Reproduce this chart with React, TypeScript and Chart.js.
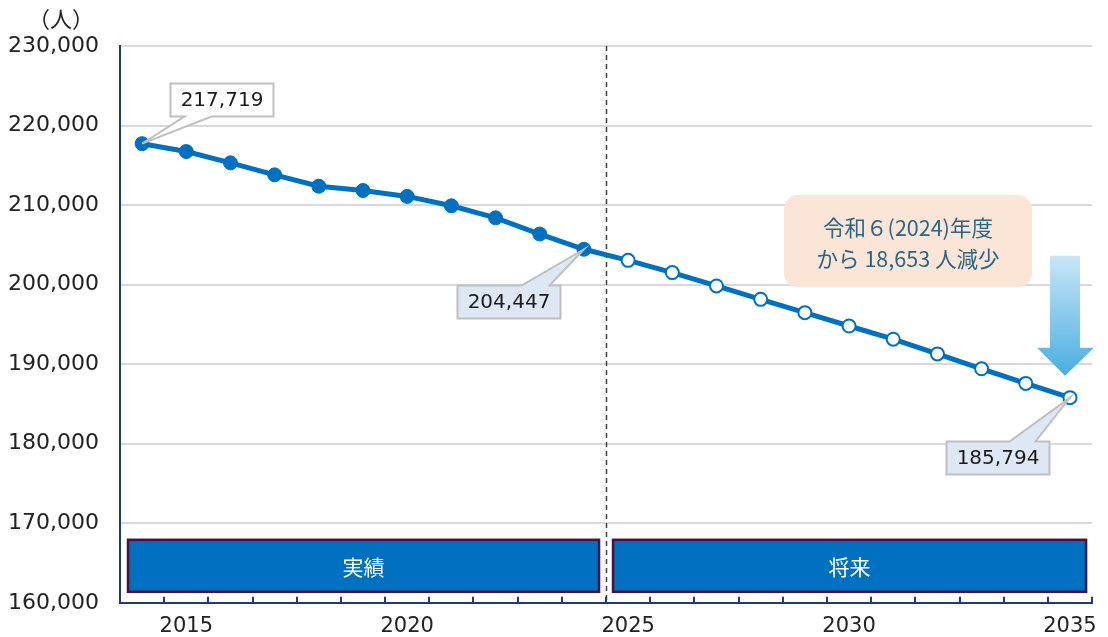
import React, { useEffect, useRef } from "react";
import { Chart, registerables } from "chart.js";

Chart.register(...registerables);

// ---- data ----
const years = [
  "2014", "2015", "2016", "2017", "2018", "2019", "2020", "2021", "2022", "2023", "2024",
  "2025", "2026", "2027", "2028", "2029", "2030", "2031", "2032", "2033", "2034", "2035",
];
const actualValues = [217719, 216730, 215310, 213800, 212370, 211830, 211090, 209910, 208400, 206360, 204447];
const projectedValues = [203050, 201510, 199830, 198150, 196480, 194800, 193140, 191290, 189420, 187580, 185794];
const yMin = 160000;
const yMax = 230000;
const yStep = 10000;
const calloutIndices = [0, 10, 21];
const periodLabels = ["実績", "将来"];
const noteLines = ["令和６(2024)年度", "から 18,653 人減少"];
const unitLabel = "（人）";

const allValues = [...actualValues, ...projectedValues];

// ---- styles / layout ----
const BLUE = "#0070c0";
const NAVY = "#1f3a78";
const GRID = "#d9d9d9";
const NUM_FONT = "DejaVu Sans";
const JP_FONT = "'Noto Sans CJK JP'";

const calloutStyle = [
  { dx: 79, dy: -44, fill: "#ffffff", edge: "bottom", b1: 14, b2: 41 },
  { dx: -75, dy: 52, fill: "#dde8f4", edge: "top", b1: 64, b2: 92 },
  { dx: -72, dy: 60, fill: "#dde8f4", edge: "top", b1: 63, b2: 89 },
];

const fmt = (v: number) => v.toLocaleString("en-US");

const decorPlugin = {
  id: "decor",
  beforeDatasetsDraw(chart: any) {
    const { ctx, chartArea, scales } = chart;
    const x = scales.x;
    const bx = (x.getPixelForValue(actualValues.length - 1) + x.getPixelForValue(actualValues.length)) / 2;
    ctx.save();
    ctx.strokeStyle = "#404040";
    ctx.lineWidth = 1.5;
    ctx.setLineDash([5, 4]);
    ctx.beginPath();
    ctx.moveTo(Math.round(bx) + 0.5, chartArea.top);
    ctx.lineTo(Math.round(bx) + 0.5, chartArea.bottom);
    ctx.stroke();
    ctx.restore();
  },
  afterDatasetsDraw(chart: any) {
    const { ctx, chartArea, scales } = chart;
    const x = scales.x;
    const y = scales.y;
    const step = x.getPixelForValue(1) - x.getPixelForValue(0);
    const x0 = x.getPixelForValue(0) - step / 2;

    // inward ticks
    ctx.save();
    ctx.strokeStyle = NAVY;
    ctx.lineWidth = 2;
    for (let i = 1; i <= years.length; i++) {
      const tx = Math.round(x0 + i * step);
      ctx.beginPath();
      ctx.moveTo(tx, chartArea.bottom - 6);
      ctx.lineTo(tx, chartArea.bottom);
      ctx.stroke();
    }
    ctx.restore();

    // unit label
    ctx.save();
    ctx.fillStyle = "#222";
    ctx.font = `22px ${JP_FONT}`;
    ctx.textBaseline = "middle";
    ctx.textAlign = "left";
    ctx.fillText(unitLabel, 28, 19);
    ctx.restore();

    // period bars
    const bx = (x.getPixelForValue(actualValues.length - 1) + x.getPixelForValue(actualValues.length)) / 2;
    const bars = [
      [chartArea.left + 8, bx - 7],
      [bx + 7, chartArea.right - 6],
    ];
    ctx.save();
    bars.forEach(([l, r], i) => {
      const top = chartArea.bottom - 63;
      const h = 52;
      ctx.fillStyle = BLUE;
      ctx.fillRect(l, top, r - l, h);
      ctx.strokeStyle = "#4a1040";
      ctx.lineWidth = 2.5;
      ctx.strokeRect(l, top, r - l, h);
      ctx.fillStyle = "#ffffff";
      ctx.font = `21px ${JP_FONT}`;
      ctx.textAlign = "center";
      ctx.textBaseline = "middle";
      ctx.fillText(periodLabels[i], (l + r) / 2, top + h / 2 + 1);
    });
    ctx.restore();

    // callouts
    calloutIndices.forEach((idx, k) => {
      const st = calloutStyle[k];
      const px = x.getPixelForValue(idx);
      const py = y.getPixelForValue(allValues[idx]);
      const text = fmt(allValues[idx]);
      ctx.save();
      ctx.font = `20px ${NUM_FONT}`;
      const tw = ctx.measureText(text).width;
      const w = Math.round(tw + 20);
      const h = 33;
      const cx = px + st.dx;
      const cy = py + st.dy;
      const L = Math.round(cx - w / 2) + 0.5;
      const T = Math.round(cy - h / 2) + 0.5;
      const R = L + w;
      const B = T + h;
      ctx.beginPath();
      if (st.edge === "bottom") {
        ctx.moveTo(L, T);
        ctx.lineTo(R, T);
        ctx.lineTo(R, B);
        ctx.lineTo(L + st.b2, B);
        ctx.lineTo(px, py);
        ctx.lineTo(L + st.b1, B);
        ctx.lineTo(L, B);
      } else {
        ctx.moveTo(L, T);
        ctx.lineTo(L + st.b1, T);
        ctx.lineTo(px, py);
        ctx.lineTo(L + st.b2, T);
        ctx.lineTo(R, T);
        ctx.lineTo(R, B);
        ctx.lineTo(L, B);
      }
      ctx.closePath();
      ctx.fillStyle = st.fill;
      ctx.fill();
      ctx.strokeStyle = "#bfbfbf";
      ctx.lineWidth = 2;
      ctx.lineJoin = "miter";
      ctx.stroke();
      ctx.fillStyle = "#1a1a1a";
      ctx.textAlign = "center";
      ctx.textBaseline = "middle";
      ctx.fillText(text, (L + R) / 2, (T + B) / 2 + 1);
      ctx.restore();
    });

    // note box
    const nL = 784, nT = 195, nW = 248, nH = 92, rad = 14;
    ctx.save();
    ctx.beginPath();
    ctx.roundRect(nL, nT, nW, nH, rad);
    ctx.fillStyle = "#fbe5d6";
    ctx.fill();
    ctx.fillStyle = "#2a6687";
    ctx.font = `21.5px ${JP_FONT}`;
    ctx.textAlign = "center";
    ctx.textBaseline = "middle";
    ctx.fillText(noteLines[0], nL + nW / 2, nT + 33);
    ctx.fillText(noteLines[1], nL + nW / 2, nT + 64);
    ctx.restore();

    // arrow
    const ax = x.getPixelForValue(years.length - 1) - 5;
    const tipY = y.getPixelForValue(allValues[allValues.length - 1]) - 22;
    const topY = tipY - 120;
    const headY = tipY - 28;
    ctx.save();
    const g = ctx.createLinearGradient(0, topY, 0, tipY);
    g.addColorStop(0, "#c8e6f6");
    g.addColorStop(1, "#4aaee0");
    ctx.fillStyle = g;
    ctx.beginPath();
    ctx.moveTo(ax - 15, topY);
    ctx.lineTo(ax + 15, topY);
    ctx.lineTo(ax + 15, headY);
    ctx.lineTo(ax + 29, headY);
    ctx.lineTo(ax, tipY);
    ctx.lineTo(ax - 28, headY);
    ctx.lineTo(ax - 15, headY);
    ctx.closePath();
    ctx.fill();
    ctx.restore();
  },
};

export default function App() {
  const ref = useRef<HTMLCanvasElement | null>(null);

  useEffect(() => {
    document.body.style.margin = "0";
    const canvas = ref.current;
    if (!canvas) return;
    const nA = actualValues.length;
    const chart = new Chart(canvas, {
      type: "line",
      data: {
        labels: years,
        datasets: [
          {
            data: allValues,
            borderColor: BLUE,
            borderWidth: 5,
            pointRadius: allValues.map((_, i) => (i < nA ? 7 : 6.5)),
            pointBorderWidth: allValues.map((_, i) => (i < nA ? 1 : 2)),
            pointBackgroundColor: allValues.map((_, i) => (i < nA ? BLUE : "#ffffff")),
            pointBorderColor: BLUE,
            tension: 0,
          },
        ],
      },
      options: {
        animation: false,
        responsive: false,
        devicePixelRatio: 1,
        layout: { padding: { top: 46, right: 13, left: 0, bottom: 0 } },
        plugins: { legend: { display: false }, tooltip: { enabled: false } },
        scales: {
          x: {
            type: "category",
            offset: true,
            grid: { display: false, drawTicks: false },
            border: { color: NAVY, width: 2 },
            ticks: {
              autoSkip: false,
              maxRotation: 0,
              padding: 11,
              color: "#222",
              font: { family: NUM_FONT, size: 21 },
              callback: (_v: any, i: number) => (Number(years[i]) % 5 === 0 ? years[i] : ""),
            },
            afterFit: (s: any) => {
              s.height = 34;
            },
          },
          y: {
            min: yMin,
            max: yMax,
            grid: { color: GRID, lineWidth: 2, drawTicks: false },
            border: { color: NAVY, width: 2 },
            ticks: {
              stepSize: yStep,
              padding: 21,
              color: "#222",
              font: { family: NUM_FONT, size: 22 },
              callback: (v: any) => fmt(Number(v)),
            },
            afterFit: (s: any) => {
              s.width = 120;
            },
          },
        },
      },
      plugins: [decorPlugin],
    });
    return () => chart.destroy();
  }, []);

  return (
    <div style={{ width: 1108, height: 637 }}>
      <canvas ref={ref} width={1108} height={637} />
    </div>
  );
}
